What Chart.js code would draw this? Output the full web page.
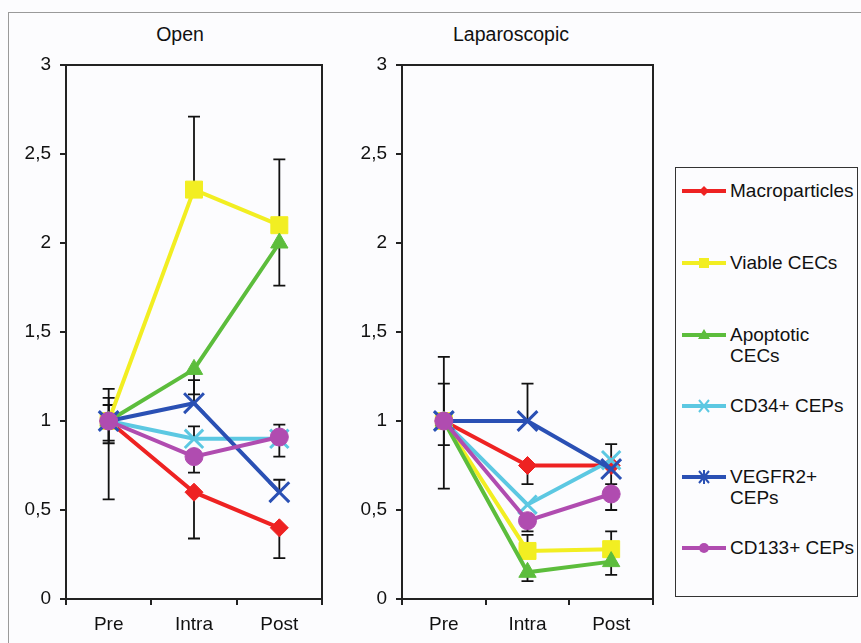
<!DOCTYPE html>
<html>
<head>
<meta charset="utf-8">
<script src="https://cdn.jsdelivr.net/npm/chart.js@4.4.1/dist/chart.umd.min.js"></script>
<style>
  body { margin: 0; background: #fcfcfe; font-family: "Liberation Sans", Arial, sans-serif; }
  #wrap { position: relative; width: 861px; height: 643px; overflow: hidden; }
  #frame { position: absolute; left: 8px; top: 12px; width: 900px; height: 700px; border-left: 1.5px solid #9a9a9a; border-top: 1.5px solid #9a9a9a; }
  .title { position: absolute; top: 23px; width: 200px; text-align: center; font-size: 19.5px; color: #111; }
  canvas { position: absolute; top: 0; }
  #legend { position: absolute; left: 675px; top: 167px; width: 181px; height: 428px; border: 1.5px solid #333; }
  .item { position: absolute; left: 5px; font-size: 19px; line-height: 21px; color: #111; }
  .item svg { position: absolute; left: 0; top: 2px; }
  .item span { position: absolute; left: 49px; top: 0; white-space: nowrap; }
</style>
</head>
<body>
<div id="wrap">
  <div id="frame"></div>
  <div class="title" style="left:80px">Open</div>
  <div class="title" style="left:411px">Laparoscopic</div>
  <canvas id="openChart" width="340" height="643" style="left:0"></canvas>
  <canvas id="lapChart" width="330" height="643" style="left:340px"></canvas>
  <div id="legend"></div>
</div>
<script>
document.addEventListener("DOMContentLoaded", function(){

  let labelsTime = ["Pre", "Intra", "Post"];
  let seriesNames = ["Macroparticles", "Viable CECs", "Apoptotic CECs", "CD34+ CEPs", "VEGFR2+ CEPs", "CD133+ CEPs"];
  let seriesColors = ["#ee2222", "#f2ee22", "#5cbd3c", "#5cc8e2", "#2a50b4", "#b04cb0"];

  // Open surgery: mean values
  let openMacro = [1, 0.6, 0.4];
  let openViable = [1, 2.3, 2.1];
  let openApoptotic = [1, 1.29, 2.0];
  let openCD34 = [1, 0.9, 0.9];
  let openVEGFR2 = [1, 1.1, 0.6];
  let openCD133 = [1, 0.8, 0.91];

  // Open surgery: error bar ends (null = none)
  let openMacroErr = [0.56, 0.34, 0.23];
  let openViableErr = [1.18, 2.71, 2.47];
  let openApoptoticErr = [1.13, 1.15, 1.76];
  let openCD34Err = [0.89, 0.97, 0.98];
  let openVEGFR2Err = [1.09, 1.23, 0.67];
  let openCD133Err = [0.875, 0.71, 0.8];

  // Laparoscopic surgery: mean values
  let lapMacro = [1, 0.75, 0.75];
  let lapViable = [1, 0.27, 0.28];
  let lapApoptotic = [1, 0.15, 0.21];
  let lapCD34 = [1, 0.53, 0.78];
  let lapVEGFR2 = [1, 1.0, 0.73];
  let lapCD133 = [1, 0.44, 0.59];

  // Laparoscopic surgery: error bar ends
  let lapMacroErr = [0.62, 0.645, null];
  let lapViableErr = [1.36, 0.36, 0.38];
  let lapApoptoticErr = [1.21, 0.1, 0.135];
  let lapCD34Err = [null, null, 0.87];
  let lapVEGFR2Err = [null, 1.21, 0.645];
  let lapCD133Err = [0.865, 0.38, 0.5];

  let pointStyles = ["rectRot", "rect", "triangle", "crossRot", "crossRot", "circle"];
  let pointSizes = [9, 12, 10, 13, 14, 9];

  function makeDatasets(values, errs) {
    return values.map((data, i) => ({
      label: seriesNames[i],
      data: data,
      errEnds: errs[i],
      borderColor: seriesColors[i],
      backgroundColor: seriesColors[i],
      borderWidth: 4,
      pointStyle: pointStyles[i],
      pointRadius: pointSizes[i],
      pointBorderWidth: (i == 3 || i == 4) ? 3 : 1,
      order: 5 - i,
      clip: false,
    }));
  }

  // vertical error bars with caps, read from each dataset's errEnds
  const errorBars = {
    id: "errorBars",
    beforeDatasetsDraw(chart) {
      const ctx = chart.ctx;
      const yScale = chart.scales.y;
      ctx.save();
      ctx.strokeStyle = "#111";
      ctx.lineWidth = 1.8;
      chart.data.datasets.forEach((ds, i) => {
        const meta = chart.getDatasetMeta(i);
        ds.errEnds.forEach((end, j) => {
          if (end == null) return;
          const x = meta.data[j].x;
          const y0 = yScale.getPixelForValue(ds.data[j]);
          const y1 = yScale.getPixelForValue(end);
          ctx.beginPath();
          ctx.moveTo(x, y0);
          ctx.lineTo(x, y1);
          ctx.moveTo(x - 6, y1);
          ctx.lineTo(x + 6, y1);
          ctx.stroke();
        });
      });
      ctx.restore();
    },
  };

  // top and right sides of the plot box
  const plotBox = {
    id: "plotBox",
    afterDraw(chart) {
      const a = chart.chartArea;
      const ctx = chart.ctx;
      ctx.save();
      ctx.strokeStyle = "#222";
      ctx.lineWidth = 2;
      ctx.beginPath();
      ctx.moveTo(a.left, a.top);
      ctx.lineTo(a.right, a.top);
      ctx.lineTo(a.right, a.bottom);
      ctx.stroke();
      ctx.restore();
    },
  };

  function makeChart(id, datasets, axisWidth, rightPad) {
    return new Chart(document.getElementById(id).getContext("2d"), {
      type: "line",
      data: { labels: labelsTime, datasets: datasets },
      plugins: [errorBars, plotBox],
      options: {
        responsive: false,
        animation: false,
        layout: { padding: { top: 65, right: rightPad, bottom: 0, left: 0 } },
        plugins: { legend: { display: false }, tooltip: { enabled: false } },
        scales: {
          x: {
            offset: true,
            grid: { drawOnChartArea: false, tickLength: 6, color: "#222", lineWidth: 2, offset: true },
            border: { color: "#222", width: 2 },
            ticks: { color: "#111", padding: 8, font: { size: 19, family: "Liberation Sans" } },
            afterFit: (scale) => { scale.height = 643 - 599; },
          },
          y: {
            min: 0,
            max: 3,
            grid: { drawOnChartArea: false, tickLength: 6, color: "#222", lineWidth: 2 },
            border: { color: "#222", width: 2 },
            ticks: {
              stepSize: 0.5,
              color: "#111",
              padding: 9,
              font: { size: 19, family: "Liberation Sans" },
              callback: (value) => String(value).replace(".", ","),
            },
            afterFit: (scale) => { scale.width = axisWidth; },
          },
        },
      },
    });
  }

  const openChart = makeChart("openChart", makeDatasets(
    [openMacro, openViable, openApoptotic, openCD34, openVEGFR2, openCD133],
    [openMacroErr, openViableErr, openApoptoticErr, openCD34Err, openVEGFR2Err, openCD133Err]
  ), 66, 18);

  const lapChart = makeChart("lapChart", makeDatasets(
    [lapMacro, lapViable, lapApoptotic, lapCD34, lapVEGFR2, lapCD133],
    [lapMacroErr, lapViableErr, lapApoptoticErr, lapCD34Err, lapVEGFR2Err, lapCD133Err]
  ), 62, 11);

  // legend built by hand (labels wrap like the original)
  let legendTops = [12, 84, 156, 227, 298, 369];
  let legendText = ["Macroparticles", "Viable CECs", "Apoptotic<br>CECs", "CD34+ CEPs", "VEGFR2+<br>CEPs", "CD133+ CEPs"];

  function markerSvg(i) {
    const c = seriesColors[i];
    let m = "";
    if (i == 0) m = `<polygon points="23,4 28,9 23,14 18,9" fill="${c}"/>`;
    if (i == 1) m = `<rect x="18" y="4" width="10" height="10" fill="${c}"/>`;
    if (i == 2) m = `<polygon points="23,3 29,13 17,13" fill="${c}"/>`;
    if (i == 3) m = `<path d="M18,3 L28,15 M28,3 L18,15" stroke="${c}" stroke-width="2"/>`;
    if (i == 4) m = `<path d="M18,3 L28,15 M28,3 L18,15 M23,2 L23,16" stroke="${c}" stroke-width="2"/>`;
    if (i == 5) m = `<circle cx="23" cy="9" r="5" fill="${c}"/>`;
    return `<svg width="46" height="18"><line x1="1" y1="9" x2="45" y2="9" stroke="${c}" stroke-width="4"/>${m}</svg>`;
  }

  const legendEl = document.getElementById("legend");
  seriesNames.forEach((name, i) => {
    const div = document.createElement("div");
    div.className = "item";
    div.style.top = legendTops[i] + "px";
    div.innerHTML = markerSvg(i) + "<span>" + legendText[i] + "</span>";
    legendEl.appendChild(div);
  });

});
</script>
</body>
</html>
